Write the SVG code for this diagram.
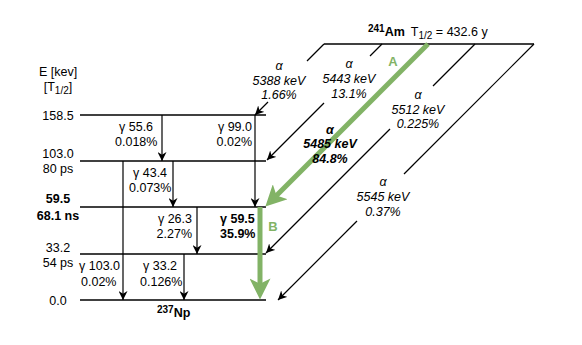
<svg xmlns="http://www.w3.org/2000/svg" width="582" height="345" viewBox="0 0 582 345">
<style>
text{font-family:"Liberation Sans",Arial,sans-serif;font-size:12.5px;fill:#000}
.b{font-weight:bold}
.i{font-style:italic}
.m{text-anchor:middle}
.e{text-anchor:end}
.lv{stroke:#000;stroke-width:1.3;fill:none}
.ln{stroke:#000;stroke-width:1.2;fill:none}
.ar{stroke:#000;stroke-width:1.2;fill:none;marker-end:url(#ab)}
.g{stroke:#82b366;stroke-width:5;fill:none;marker-end:url(#ag)}
.gt{fill:#82b366;font-weight:bold;font-size:13px}
</style>
<defs>
<marker id="ab" viewBox="0 0 10 10" refX="10" refY="5" markerWidth="9" markerHeight="9" markerUnits="userSpaceOnUse" orient="auto">
<path d="M0,0 L10,5 L0,10 L3,5 Z" fill="#000"/>
</marker>
<marker id="ag" viewBox="0 0 10 10" refX="5" refY="5" markerWidth="22" markerHeight="21" markerUnits="userSpaceOnUse" orient="auto">
<path d="M0,0 L10,5 L0,10 L2.5,5 Z" fill="#82b366"/>
</marker>
</defs>

<g id="axis">
<text class="m" x="58" y="76">E [kev]</text>
<text class="m" x="58" y="91">[T<tspan font-size="10" dy="3">1/2</tspan><tspan dy="-3">]</tspan></text>
</g>

<g id="am241">
<line class="lv" x1="324" y1="44" x2="534" y2="44"/>
<text x="368" y="36"><tspan class="b" font-size="10" dy="-4">241</tspan><tspan class="b" dy="4">Am</tspan><tspan dx="6">T</tspan><tspan font-size="10" dy="3">1/2</tspan><tspan dy="-3"> = 432.6 y</tspan></text>
</g>

<g id="level-158">
<line class="lv" x1="80" y1="115" x2="266" y2="115"/>
<text class="m" x="58" y="120">158.5</text>
</g>
<g id="level-103">
<line class="lv" x1="80" y1="161" x2="266" y2="161"/>
<text class="m" x="58" y="158">103.0</text>
<text class="m" x="58" y="173">80 ps</text>
</g>
<g id="level-59">
<line class="lv" x1="80" y1="207" x2="266" y2="207"/>
<text class="m b" x="58" y="203">59.5</text>
<text class="m b" x="58" y="220">68.1 ns</text>
</g>
<g id="level-33">
<line class="lv" x1="80" y1="254" x2="266" y2="254"/>
<text class="m" x="58" y="252">33.2</text>
<text class="m" x="58" y="267">54 ps</text>
</g>
<g id="level-0">
<line class="lv" x1="80" y1="300" x2="266" y2="300"/>
<text class="m" x="58" y="305">0.0</text>
<text x="157" y="317"><tspan class="b" font-size="10" dy="-4">237</tspan><tspan class="b" dy="4">Np</tspan></text>
</g>

<g id="connectors">
<line class="ln" x1="324" y1="44" x2="307" y2="61"/>
<line class="ar" x1="268" y1="102" x2="255" y2="115"/>
<line class="ln" x1="382" y1="44" x2="370" y2="56"/>
<line class="ar" x1="324" y1="103" x2="267" y2="160"/>
<line class="g" x1="428" y1="44" x2="272.8" y2="199.2"/>
<line class="ln" x1="475" y1="44" x2="433" y2="86"/>
<line class="ar" x1="390" y1="129" x2="266" y2="253"/>
<line class="ln" x1="534" y1="44" x2="404" y2="174"/>
<line class="ar" x1="357" y1="221" x2="278" y2="300"/>
<line class="ar" x1="162" y1="115" x2="162" y2="161"/>
<line class="ar" x1="255" y1="115" x2="255" y2="207"/>
<line class="ar" x1="173" y1="161" x2="173" y2="207"/>
<line class="ar" x1="123" y1="161" x2="123" y2="300"/>
<line class="ar" x1="197" y1="207" x2="197" y2="254"/>
<line class="ar" x1="184" y1="254" x2="184" y2="300"/>
<line class="g" x1="260" y1="207" x2="260" y2="289"/>
</g>

<g id="alpha-labels">
<text class="m i" x="279" y="70">α</text>
<text class="m i" x="279" y="85">5388 keV</text>
<text class="m i" x="279" y="99">1.66%</text>
<text class="m i" x="349" y="68">α</text>
<text class="m i" x="349" y="83">5443 keV</text>
<text class="m i" x="349" y="98">13.1%</text>
<text class="m i b" x="330" y="134">α</text>
<text class="m i b" x="330" y="148">5485 keV</text>
<text class="m i b" x="330" y="163">84.8%</text>
<text class="m i" x="418" y="99">α</text>
<text class="m i" x="418" y="114">5512 keV</text>
<text class="m i" x="418" y="128">0.225%</text>
<text class="m i" x="383" y="186">α</text>
<text class="m i" x="383" y="201">5545 keV</text>
<text class="m i" x="383" y="216">0.37%</text>
<text class="gt m" x="393" y="66">A</text>
<text class="gt m" x="273" y="231">B</text>
</g>

<g id="gamma-labels">
<text x="119" y="131">γ 55.6</text>
<text x="115" y="146">0.018%</text>
<text class="e" x="252" y="131">γ 99.0</text>
<text class="e" x="252" y="146">0.02%</text>
<text x="133" y="177">γ 43.4</text>
<text x="129" y="192">0.073%</text>
<text class="e" x="192" y="223">γ 26.3</text>
<text class="e" x="192" y="238">2.27%</text>
<text class="b" x="220" y="223">γ 59.5</text>
<text class="b" x="220" y="238">35.9%</text>
<text x="143" y="270">γ 33.2</text>
<text x="140" y="286">0.126%</text>
<text x="79" y="270">γ 103.0</text>
<text x="81" y="286">0.02%</text>
</g>
</svg>
